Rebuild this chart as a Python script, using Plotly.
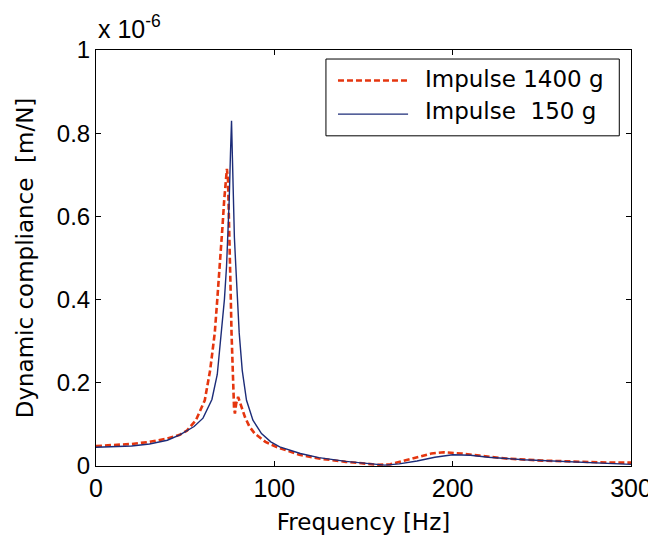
import plotly.graph_objects as go

# Frequency [Hz] and dynamic compliance [x 1e-6 m/N]
freq_150 = [0, 10, 20, 30, 40, 47, 55, 60, 65, 68, 70.4, 72, 73.2, 74, 74.7, 75.4, 76,
            76.5, 76.9, 77.6, 78.4, 79.3, 80.3, 82, 84.4, 88, 92.8, 98, 103, 114.6, 125,
            140, 155, 162, 170, 180, 190, 200, 210, 220, 240, 260, 280, 300]
comp_150 = [0.045, 0.046, 0.048, 0.053, 0.062, 0.075, 0.095, 0.115, 0.16, 0.22, 0.32, 0.40,
            0.48, 0.56, 0.64, 0.75, 0.83, 0.74, 0.64, 0.55, 0.48, 0.40, 0.32, 0.23, 0.158,
            0.11, 0.078, 0.058, 0.046, 0.03, 0.02, 0.011, 0.004, 0.002, 0.005, 0.012, 0.021,
            0.027, 0.026, 0.021, 0.015, 0.011, 0.007, 0.004]

freq_1400 = [0, 10, 20, 30, 40, 47, 51, 56, 61, 64, 66.6, 68, 69.5, 71, 71.9, 72.8, 73.4,
             74, 74.6, 75.1, 75.5, 76, 76.5, 76.9, 77.4, 77.9, 78.6, 79.7, 81, 83.5, 86, 89,
             95, 101, 114, 125, 140, 150, 158, 165, 172, 180, 188, 195, 205, 215, 230, 250,
             270, 290, 300]
comp_1400 = [0.048, 0.05, 0.053, 0.058, 0.066, 0.075, 0.085, 0.11, 0.158, 0.23, 0.32, 0.40,
             0.479, 0.58, 0.64, 0.70, 0.714, 0.69, 0.60, 0.50, 0.42, 0.32, 0.24, 0.17, 0.14,
             0.126, 0.15, 0.166, 0.15, 0.118, 0.095, 0.078, 0.058, 0.046, 0.027, 0.018, 0.01,
             0.006, 0.003, 0.004, 0.012, 0.022, 0.03, 0.033, 0.03, 0.025, 0.018, 0.013, 0.01,
             0.008, 0.008]

legend_labels = ["Impulse 1400 g", "Impulse\u00a0\u00a0150 g"]
x_ticks = [0, 100, 200, 300]
y_ticks = [0, 0.2, 0.4, 0.6, 0.8, 1]

RED = "#E5360F"
BLUE = "#1C2C78"
TITLE_FONT = "DejaVu Sans"

fig = go.Figure()
fig.add_trace(go.Scatter(x=freq_1400, y=comp_1400, mode="lines", name=legend_labels[0],
                         line=dict(color=RED, width=2.6, dash="6px,3px"), showlegend=False))
fig.add_trace(go.Scatter(x=freq_150, y=comp_150, mode="lines", name=legend_labels[1],
                         line=dict(color=BLUE, width=1.4), showlegend=False))

axis_common = dict(showline=True, linecolor="black", linewidth=1, mirror="ticks",
                   ticks="inside", ticklen=5, tickcolor="black", showgrid=False,
                   zeroline=False, automargin=False, ticklabeloverflow="allow")

fig.update_xaxes(range=[0, 300], tickvals=x_ticks, ticktext=[str(v) for v in x_ticks],
                 tickfont=dict(family="Liberation Sans", size=25, color="black"),
                 title=dict(text="Frequency [Hz]", standoff=12,
                            font=dict(family=TITLE_FONT, size=23, color="black")),
                 **axis_common)
fig.update_yaxes(range=[0, 1], tickvals=y_ticks,
                 ticktext=["0", "0.2", "0.4", "0.6", "0.8", "1"],
                 tickfont=dict(family="Liberation Sans", size=24, color="black"),
                 title=dict(text="Dynamic compliance  [m/N]", standoff=16,
                            font=dict(family=TITLE_FONT, size=23, color="black")),
                 **axis_common)

# custom legend (paper coordinates)
shapes = [
    dict(type="rect", xref="paper", yref="paper", x0=0.4298, x1=0.9781, y0=0.7937, y1=0.9783,
         line=dict(color="black", width=1), fillcolor="white", layer="above"),
    dict(type="line", xref="paper", yref="paper", x0=0.4523, x1=0.5833, y0=0.9268, y1=0.9268,
         line=dict(color=RED, width=2.6, dash="6px,3px"), layer="above"),
    dict(type="line", xref="paper", yref="paper", x0=0.4523, x1=0.5833, y0=0.8459, y1=0.8459,
         line=dict(color=BLUE, width=1.4), layer="above"),
]
annotations = [
    dict(text=legend_labels[0], xref="paper", yref="paper", x=0.6112, y=0.9300,
         xanchor="left", yanchor="middle", showarrow=False,
         font=dict(family=TITLE_FONT, size=23, color="black")),
    dict(text=legend_labels[1], xref="paper", yref="paper", x=0.6112, y=0.8540,
         xanchor="left", yanchor="middle", showarrow=False,
         font=dict(family=TITLE_FONT, size=23, color="black")),
    dict(text="x 10<sup>-6</sup>", xref="paper", yref="paper", x=0.0, y=1.012,
         xanchor="left", yanchor="bottom", showarrow=False,
         font=dict(family="Liberation Sans", size=25, color="black")),
]

# the page body adds an 8 px offset, so the figure is 8 px smaller and margins shifted
fig.update_layout(width=648, height=534, plot_bgcolor="white", paper_bgcolor="white",
                  margin=dict(l=88, r=25, t=42, b=76), shapes=shapes,
                  annotations=annotations, showlegend=False)

fig.write_html("out.html")
